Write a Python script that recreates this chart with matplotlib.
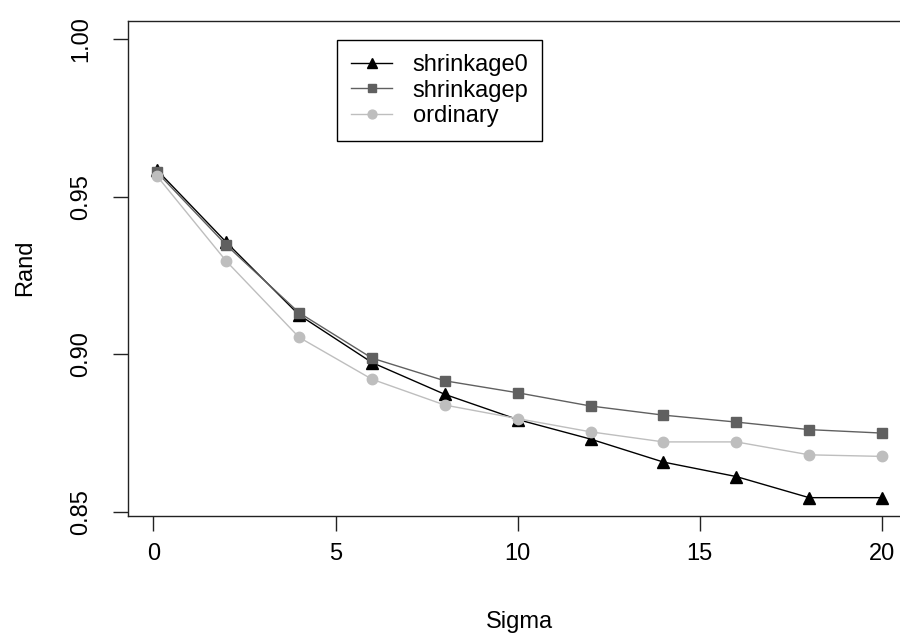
"""
Rand index against noise level for the three estimators
"""
import matplotlib
matplotlib.use('Agg')
import matplotlib.pyplot as plt

# ---------------------------------------------------------------------------#
# data
# ---------------------------------------------------------------------------#
sigma = [0.1, 2, 4, 6, 8, 10, 12, 14, 16, 18, 20]

shrinkage0 = [0.9585, 0.9356, 0.9125, 0.8974, 0.8873, 0.8793,
              0.8731, 0.8658, 0.8612, 0.8545, 0.8545]
shrinkagep = [0.9578, 0.9347, 0.9132, 0.8988, 0.8916, 0.8878,
              0.8836, 0.8807, 0.8785, 0.8761, 0.8750]
ordinary = [0.9566, 0.9296, 0.9054, 0.8921, 0.8839, 0.8796,
            0.8754, 0.8722, 0.8722, 0.8681, 0.8676]

xticks = [0, 5, 10, 15, 20]
yticks = [0.85, 0.90, 0.95, 1.00]
ytick_labels = ['0.85', '0.90', '0.95', '1.00']

# ---------------------------------------------------------------------------#
# plot formatting
# ---------------------------------------------------------------------------#
plt.rcParams['font.family'] = ['Liberation Sans', 'DejaVu Sans']
fs = 17

W, H = 900, 637
fig = plt.figure(figsize=(W / 100, H / 100), dpi=100)

# plot region in pixels (right edge runs past the figure edge)
left, right, top, bottom = 128, 911, 21, 516
ax = fig.add_axes([left / W, 1 - bottom / H, (right - left) / W, (bottom - top) / H])

ax.plot(sigma, shrinkage0, color='black', lw=1.0, marker='^', ms=8.5,
        label='shrinkage0')
ax.plot(sigma, shrinkagep, color='#606060', lw=1.0, marker='s', ms=7.5,
        label='shrinkagep')
ax.plot(sigma, ordinary, color='#bebebe', lw=1.0, marker='o', ms=7.5,
        label='ordinary')

# R style limits: data range padded by 4% on each side
xlo, xhi = min(sigma), max(sigma)
xpad = 0.04 * (xhi - xlo)
ax.set_xlim(xlo - xpad, xhi + xpad)
ylo = min(shrinkage0 + shrinkagep + ordinary)
yhi = 1.0
ypad = 0.04 * (yhi - ylo)
ax.set_ylim(ylo - ypad, yhi + ypad)

ax.set_xticks(xticks)
ax.set_xticklabels([str(t) for t in xticks])
ax.set_yticks(yticks)
ax.set_yticklabels(ytick_labels, rotation=90, va='center')

ax.tick_params(direction='out', length=10.8, width=1.0, labelsize=fs,
               color='#222222')
ax.tick_params(axis='x', pad=9)
ax.tick_params(axis='y', pad=15)
for s in ax.spines.values():
    s.set_linewidth(1.0)
    s.set_color('#222222')

fig.text(519.5 / W, 1 - 622 / H, 'Sigma', ha='center', va='center', fontsize=fs)
fig.text(25 / W, 1 - 268 / H, 'Rand', ha='center', va='center', fontsize=fs,
         rotation=90)

leg = ax.legend(loc='upper left', bbox_to_anchor=(337 / W, 1 - 40 / H),
                bbox_transform=fig.transFigure, borderaxespad=0,
                fontsize=fs, frameon=True, fancybox=False, framealpha=1,
                edgecolor='black', handlelength=1.75, handletextpad=0.85,
                labelspacing=0.15, borderpad=0.6, markerscale=0.85)
leg.get_frame().set_linewidth(1.0)

fig.savefig('out.png', dpi=100)
